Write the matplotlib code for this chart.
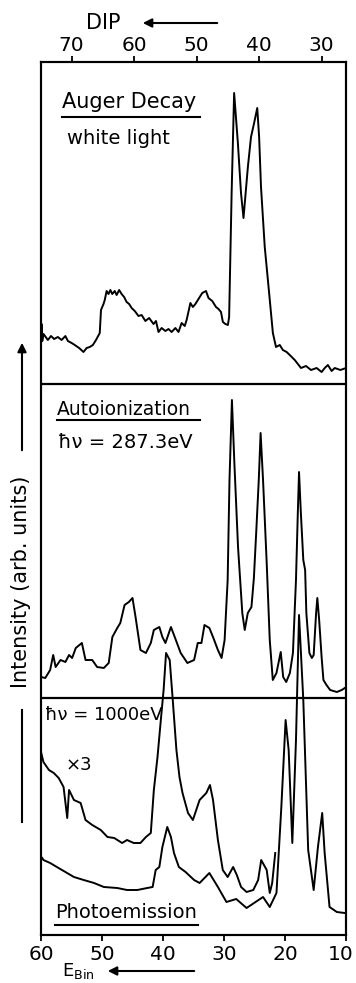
import numpy as np
import matplotlib
matplotlib.use("Agg")
import matplotlib.pyplot as plt
from matplotlib.lines import Line2D
from matplotlib.patches import FancyArrowPatch
import matplotlib.transforms as mtransforms

# ---------------- data ----------------
# Auger decay (white light) vs. DIP (top axis)
auger_dip = [74.9, 74.8, 74.7, 74.5, 73.8, 73.3, 72.8, 72.2, 71.6, 71.0, 70.6, 70.0,
             69.5, 68.8, 68.1, 67.6, 67.1, 66.6, 66.1, 65.5, 65.3, 64.9, 64.7, 64.4,
             64.1, 63.8, 63.5, 63.1, 62.8, 62.4, 62.0, 61.6, 61.2, 60.8, 60.4, 59.9,
             59.3, 58.8, 58.2, 57.6, 56.9, 56.5, 56.1, 55.6, 55.0, 54.5, 54.0, 53.4,
             52.9, 52.4, 51.9, 51.6, 51.0, 50.6, 50.2, 49.6, 49.1, 48.5, 48.1, 47.5,
             46.9, 46.5, 46.1, 45.8, 45.4, 45.0, 44.8, 44.4, 44.0, 43.4, 42.9, 42.5,
             41.8, 41.3, 40.8, 40.3, 40.0, 39.7, 39.1, 38.4, 37.8, 37.3, 36.7, 36.2,
             35.6, 35.1, 34.3, 33.8, 33.3, 32.5, 31.7, 30.8, 30.0, 29.5, 29.0, 28.4,
             27.9, 27.0, 26.1]
auger_int = [4.0, 6.0, 4.3, 5.0, 4.4, 4.8, 4.5, 4.7, 4.4, 4.8, 4.3, 4.1,
             3.9, 3.6, 3.2, 3.6, 3.7, 3.9, 4.4, 5.1, 7.4, 8.0, 8.4, 9.3,
             9.0, 9.4, 9.0, 9.3, 8.9, 9.4, 9.0, 8.7, 8.2, 8.0, 7.6, 7.3,
             6.8, 6.9, 6.3, 6.6, 6.0, 6.3, 5.2, 5.6, 5.3, 5.5, 5.2, 5.6,
             5.2, 6.1, 5.8, 6.4, 8.1, 7.7, 8.0, 8.6, 9.1, 9.3, 8.6, 8.3,
             7.7, 7.5, 7.2, 6.2, 6.0, 5.9, 6.7, 19.1, 29.1, 24.1, 19.1, 16.6,
             21.7, 24.7, 26.1, 27.6, 24.7, 19.7, 13.7, 9.1, 5.1, 3.7, 3.9, 3.4,
             3.2, 2.9, 2.4, 2.0, 1.6, 1.8, 1.4, 1.6, 1.2, 1.6, 1.9, 1.3,
             1.6, 1.4, 1.6]

# Autoionization (hv = 287.3 eV) vs. binding energy
auto_e = [60.0, 59.3, 58.5, 58.0, 57.6, 56.8, 56.0, 55.4, 54.9, 54.3, 53.3, 52.7,
          51.6, 50.8, 49.7, 48.9, 48.3, 47.5, 47.0, 46.3, 45.6, 45.0, 44.5, 43.7,
          42.8, 42.0, 41.5, 40.6, 40.1, 39.6, 38.7, 38.2, 37.1, 36.0, 34.9, 34.3,
          33.7, 33.2, 32.4, 31.8, 31.0, 30.4, 29.9, 29.4, 29.1, 28.7, 28.3, 27.7,
          27.0, 26.6, 26.1, 25.5, 25.1, 24.7, 24.3, 24.0, 23.6, 23.0, 22.5, 22.0,
          21.4, 20.7, 20.3, 19.8, 19.2, 18.7, 18.2, 17.9, 17.7, 17.4, 17.0, 16.7,
          16.5, 16.0, 15.6, 15.3, 14.9, 14.7, 14.4, 14.0, 13.7, 13.2, 12.6, 11.5,
          10.7, 10.2]
auto_int = [2.1, 2.0, 2.8, 4.3, 3.1, 3.8, 3.6, 4.3, 4.0, 5.0, 5.5, 3.8,
            3.8, 3.1, 3.0, 3.5, 6.1, 7.0, 7.5, 9.3, 9.6, 10.0, 8.1, 4.8,
            4.5, 5.5, 6.8, 7.1, 6.1, 5.5, 7.1, 6.3, 4.5, 3.5, 3.8, 5.5,
            5.5, 7.3, 7.0, 6.1, 4.8, 4.0, 5.8, 11.8, 21.8, 29.8, 23.5, 15.1,
            8.5, 6.8, 8.5, 9.1, 12.0, 16.8, 21.8, 26.5, 21.8, 13.5, 5.8, 1.8,
            2.5, 4.6, 2.1, 1.6, 2.5, 4.5, 11.8, 18.5, 22.6, 18.5, 13.8, 12.8,
            8.5, 4.5, 4.0, 4.3, 8.5, 10.0, 7.8, 4.1, 1.8, 1.3, 0.8, 0.6,
            0.8, 1.0]

# Photoemission (hv = 1000 eV), x3 magnified trace
pe3_e = [60.0, 59.6, 58.7, 57.9, 57.1, 56.3, 55.7, 55.4, 54.6, 53.5, 52.7, 51.6,
         50.2, 49.1, 48.0, 46.7, 45.9, 44.8, 43.7, 42.8, 42.0, 41.5, 40.9, 40.4,
         39.9, 39.5, 38.9, 38.4, 37.8, 37.3, 36.8, 35.9, 35.1, 34.0, 32.9, 32.3,
         31.8, 31.0, 30.2, 29.4, 28.5, 27.9, 27.2, 26.3, 25.2, 24.4, 23.9, 23.0,
         22.5, 22.1, 21.6]
pe3_int = [18.3, 17.3, 16.5, 16.2, 15.7, 14.8, 11.7, 14.5, 13.5, 13.2, 11.5, 11.0,
           10.5, 9.8, 9.7, 9.2, 9.5, 9.2, 9.2, 9.8, 10.2, 14.5, 17.8, 21.2,
           24.5, 28.2, 27.5, 23.5, 18.5, 15.8, 14.2, 12.2, 11.5, 13.5, 14.2, 15.0,
           13.5, 9.5, 6.5, 5.8, 6.8, 6.0, 4.8, 4.3, 4.5, 5.5, 7.5, 6.5,
           4.2, 5.2, 8.2]

# Photoemission (hv = 1000 eV), x1 trace
pe1_e = [59.8, 59.6, 58.5, 57.4, 56.0, 54.6, 53.0, 51.3, 49.7, 47.5, 45.9, 44.2,
         42.6, 41.7, 41.2, 40.6, 40.1, 39.3, 38.7, 38.2, 37.4, 36.3, 34.9, 34.0,
         32.4, 31.0, 29.6, 28.0, 26.3, 23.6, 22.5, 21.4, 20.6, 19.9, 19.4, 18.8,
         18.2, 17.7, 17.0, 16.2, 15.3, 14.6, 13.9, 13.5, 12.7, 11.5, 10.2]
pe1_int = [7.7, 7.5, 7.2, 6.8, 6.3, 5.8, 5.5, 5.2, 4.8, 4.7, 4.5, 4.5,
           4.7, 4.8, 6.5, 6.8, 8.8, 10.8, 9.8, 8.2, 6.8, 6.3, 5.5, 5.2,
           6.2, 4.8, 3.3, 3.6, 2.7, 3.8, 2.8, 4.2, 12.8, 21.5, 18.5, 9.2,
           19.5, 32.0, 23.5, 8.5, 4.5, 8.8, 12.2, 8.2, 2.8, 2.3, 2.2]

bin_ticks = [60, 50, 40, 30, 20, 10]
dip_ticks = [70, 60, 50, 40, 30]

# ---------------- layout ----------------
W, H = 356, 983
fig = plt.figure(figsize=(W / 100, H / 100), dpi=100)
fig.patch.set_facecolor("white")

def fx(px):
    return px / W

def fy(py):
    return 1 - py / H

ax = fig.add_axes([fx(41), 48 / H, 305 / W, 873 / H])
ax.set_xlim(60, 10)
ax.set_ylim(0, 87.3)

OFF_TOP, OFF_MID, OFF_BOT = 55.1, 23.7, 0.0
lw = 1.4
ax.plot(auto_e, np.array(auto_int) + OFF_MID, color="black", lw=lw)
ax.plot(pe3_e, np.array(pe3_int) + OFF_BOT, color="black", lw=lw)
ax.plot(pe1_e, np.array(pe1_int) + OFF_BOT, color="black", lw=lw)
ax.axhline(OFF_TOP, color="black", lw=1.6)
ax.axhline(OFF_MID, color="black", lw=1.6)

ax2 = ax.twiny()
ax2.set_xlim(74.9, 26.1)
ax2.plot(auger_dip, np.array(auger_int) + OFF_TOP, color="black", lw=lw)

for a in (ax, ax2):
    for s in a.spines.values():
        s.set_linewidth(1.5)
ax.set_yticks([])
ax.set_xticks(bin_ticks)
ax.tick_params(axis="x", direction="out", length=4, width=1.3, labelsize=14.5, pad=3)
ax2.set_xticks(dip_ticks)
ax2.tick_params(axis="x", direction="out", length=4, width=1.3, labelsize=14.5, pad=1)

# keep the right-most bottom label inside the picture
fig.canvas.draw()
last = ax.get_xticklabels()[-1]
last.set_transform(last.get_transform() +
                   mtransforms.ScaledTranslation(-5 / 100, 0, fig.dpi_scale_trans))

# ---------------- texts ----------------
def txt(x, y, s, size, **kw):
    fig.text(fx(x), fy(y), s, fontsize=size, ha=kw.pop("ha", "left"),
             va=kw.pop("va", "center"), **kw)

def hline(x0, x1, y, w=1.5):
    fig.add_artist(Line2D([fx(x0), fx(x1)], [fy(y), fy(y)], color="black",
                          lw=w, transform=fig.transFigure))

def arrow(x0, y0, x1, y1):
    fig.add_artist(FancyArrowPatch((fx(x0), fy(y0)), (fx(x1), fy(y1)),
                                   arrowstyle="-|>", mutation_scale=13, lw=1.5,
                                   color="black", transform=fig.transFigure))

txt(62, 102, "Auger Decay", 15)
hline(62, 200, 117)
txt(67, 138, "white light", 14)

txt(57, 410, "Autoionization", 13.5)
hline(57, 200, 420)
txt(58, 443, "ħν = 287.3eV", 14)

txt(45, 715, "ħν = 1000eV", 13)
txt(66, 765, "×3", 13)
txt(55, 912, "Photoemission", 14)
hline(55, 198, 925)

txt(86, 23, "DIP", 15)
arrow(220, 23, 140, 23)

txt(62, 961, r"E$_{\mathrm{Bin}}$", 13, va="top")
arrow(197, 971, 105, 971)

txt(21, 582, "Intensity (arb. units)", 15, ha="center", rotation=90)
arrow(22, 453, 22, 340)
fig.add_artist(Line2D([fx(22), fx(22)], [fy(710), fy(822)], color="black",
                      lw=1.5, transform=fig.transFigure))

fig.savefig("out.png", dpi=100)
